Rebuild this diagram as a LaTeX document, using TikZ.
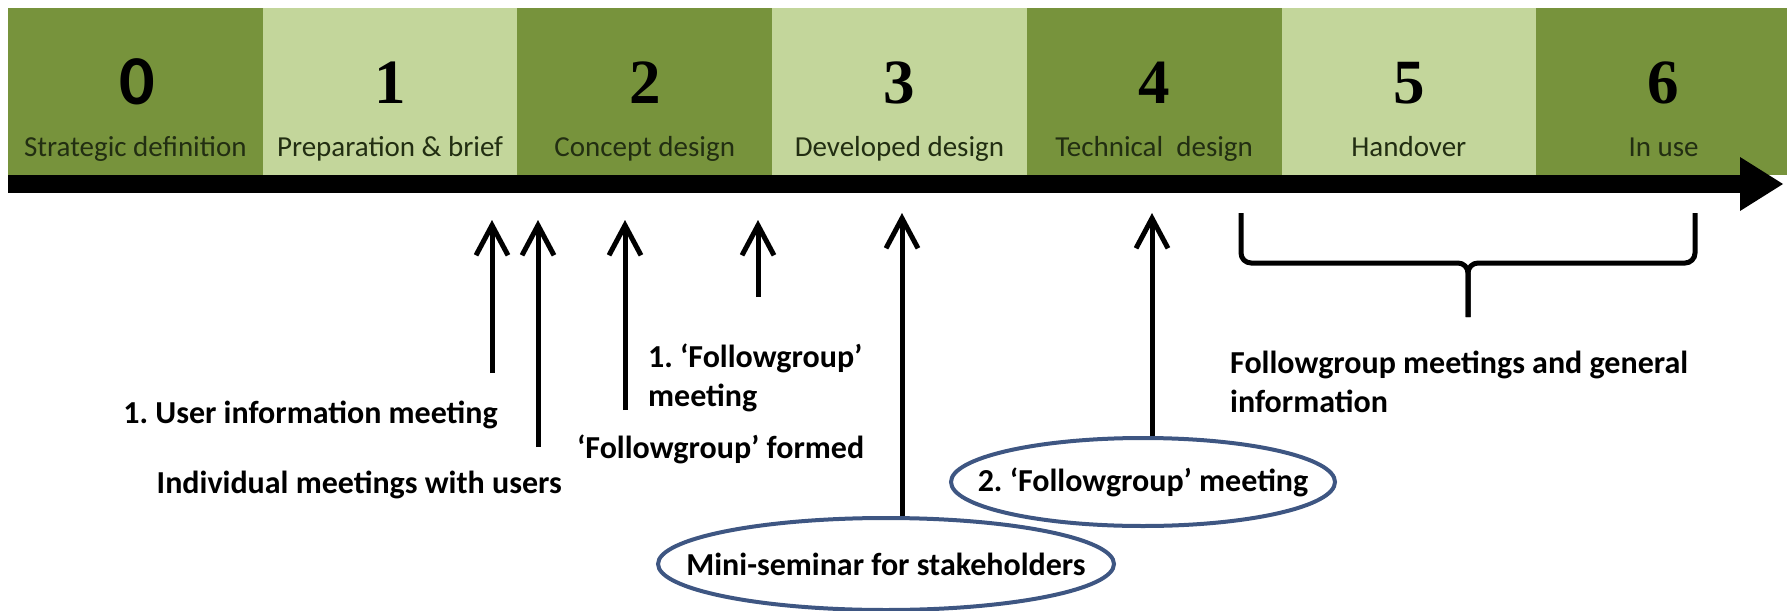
\documentclass[tikz,border=0pt]{standalone}
\usepackage{fontspec}
\setmainfont{Carlito}
\newfontfamily\numfont{Liberation Serif}
\usetikzlibrary{positioning,arrows.meta,shapes.geometric}
\definecolor{stageDark}{RGB}{119,147,60}
\definecolor{stageLight}{RGB}{195,214,155}
\definecolor{stageText}{RGB}{34,46,18}
\definecolor{ringBlue}{RGB}{62,86,130}
\frenchspacing

\tikzset{
  stagenum/.style={font=\numfont\bfseries\fontsize{63}{63}\selectfont, anchor=base, inner sep=0pt},
  stagelab/.style={font=\fontsize{29}{29}\selectfont, text=stageText, anchor=base, inner sep=0pt},
  note/.style={font=\bfseries\fontsize{32}{39}\selectfont, inner sep=0pt},
  ring/.style={ellipse, draw=ringBlue, line width=4pt, inner xsep=-45pt, inner ysep=0pt},
  uparrow/.style={line width=5pt, -{Straight Barb[length=30pt,width=32pt]}},
  bracepath/.style={line width=5pt, rounded corners=10pt},
}

\begin{document}
\begin{tikzpicture}[x=1pt,y=-1pt]
  \useasboundingbox (0,0) rectangle (1787,610);

  % RIBA stages
  \foreach \i/\col in {0/stageDark,1/stageLight,2/stageDark,3/stageLight,4/stageDark,5/stageLight,6/stageDark}
    \fill[\col] ({8+254.7*\i},8) rectangle ({8+254.7*(\i+1)},175);

  \node[stagenum, font=\bfseries\fontsize{70}{70}\selectfont] (n0) at (137,104) {0};
  \foreach \i in {1,...,6}
    \node[stagenum] (n\i) at ({135.35+254.7*\i},103) {\i};

  \foreach \i/\lab in {0/Strategic definition,1/Preparation \& brief,2/Concept design,
                       3/Developed design,4/Technical~ design,5/Handover,6/In use}
    \node[stagelab] (s\i) at ({135.35+254.7*\i},156) {\lab};

  % time line
  \fill (8,175) rectangle (1741,193);
  \fill (1740,157) -- (1783,184) -- (1740,211) -- cycle;

  % meetings
  \node[note, anchor=base east] (usrinfo) at (498,423) {1. User information meeting};
  \node[note, anchor=base east] (indiv) at (562,493) {Individual meetings with users};
  \node[note, anchor=base west] (formed) at (577,458) {‘Followgroup’ formed};
  \node[note, anchor=north west, align=left] (fg1) at (648,344) {1. ‘Followgroup’\\meeting};
  \node[note, ring, minimum width=456pt, minimum height=92pt] (mini) at (886,564) {Mini-seminar for stakeholders};
  \node[note, ring, minimum width=384pt, minimum height=88pt] (fg2) at (1143,482) {2. ‘Followgroup’ meeting};
  \node[note, anchor=north west, align=left] (general) at (1230,351) {Followgroup meetings and general\\information};

  \foreach \x/\y [count=\k] in {492/373, 538/447, 625/410, 758/297} {
    \coordinate (foot\k) at (\x,\y);
    \coordinate (tip\k) at (\x,220);
    \draw[uparrow] (foot\k) -- (tip\k);
  }
  \coordinate (tipE) at (902,213);
  \coordinate (tipF) at (1152,213);
  \draw[uparrow] (mini.north -| tipE) -- (tipE);
  \draw[uparrow] (fg2.north -| tipF) -- (tipF);

  % brace over stages 5 and 6
  \coordinate (brL) at (1241,213);
  \coordinate (brR) at (1695,213);
  \coordinate (brMid) at (1468,263);
  \coordinate (brTip) at (1468,317);
  \draw[bracepath] (brL) |- (brMid) -- (brTip);
  \draw[bracepath] (brR) |- (brMid) -- (brTip);
\end{tikzpicture}
\end{document}
